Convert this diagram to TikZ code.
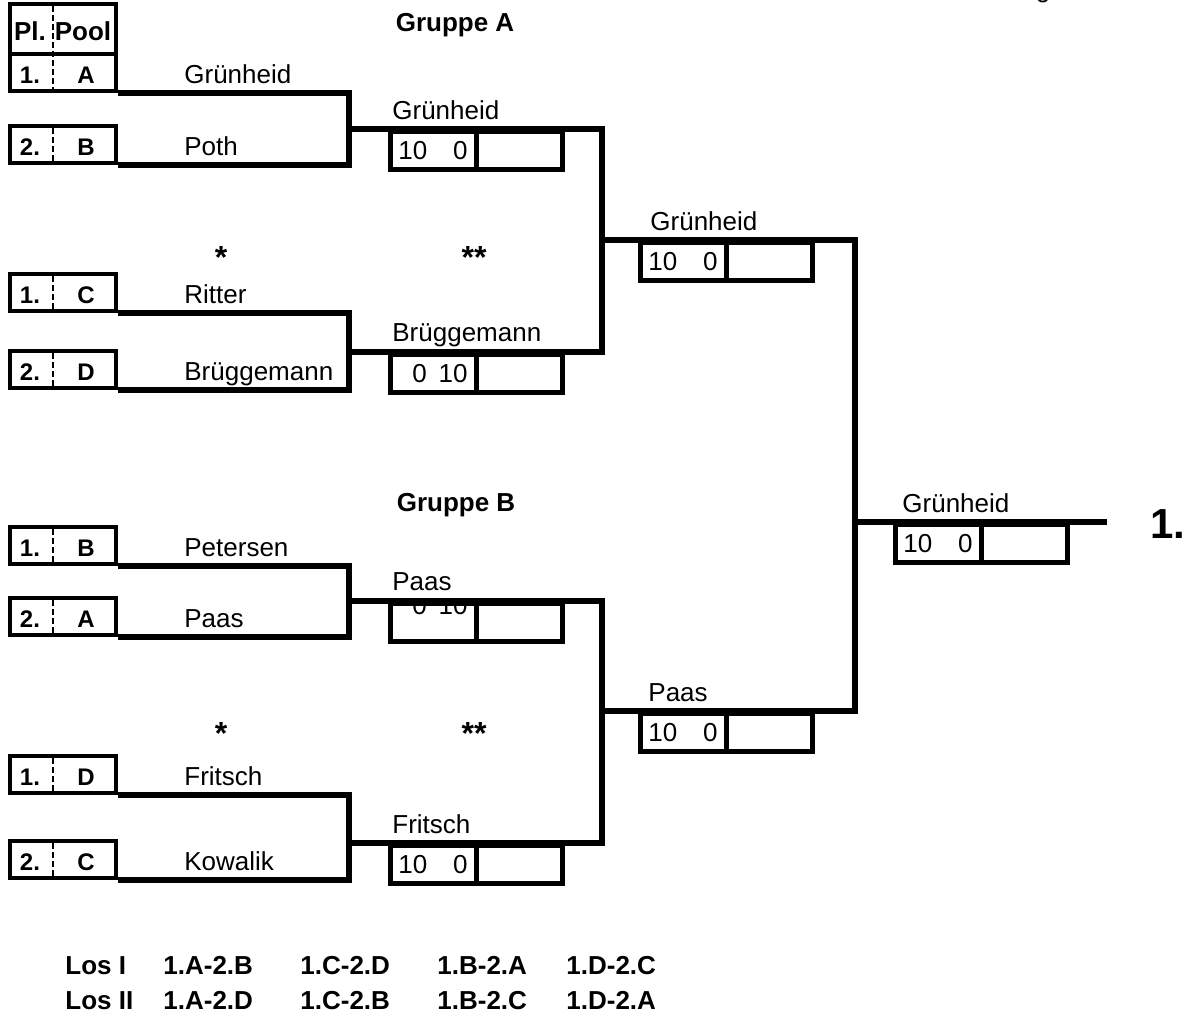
\documentclass[tikz,border=0pt]{standalone}
\usepackage{fontspec}
\setmainfont{Liberation Sans}
\begin{document}
\begin{tikzpicture}[x=0.5pt, y=-0.5pt,
  font=\fontsize{13}{15}\selectfont,
  lbl/.style={anchor=base, inner sep=0pt},
  bold/.style={lbl, font=\fontsize{13}{15}\selectfont\bfseries},
  small/.style={lbl, font=\fontsize{12}{14}\selectfont\bfseries},
  star/.style={lbl, font=\fontsize{16}{18}\selectfont\bfseries},
  player/.style={anchor=base west, inner sep=0pt},
  bracket/.style={line width=2.9pt},
  poolbox/.style={draw, line width=2pt, minimum width=53pt, minimum height=18.5pt, inner sep=0pt, anchor=south west},
  divider/.style={line width=1pt, dash pattern=on 3pt off 1.5pt},
  cell/.style={draw, line width=2.5pt, minimum width=43pt, minimum height=19pt, inner sep=0pt, anchor=north west}]
\useasboundingbox (0,0) rectangle (1193,1030);

\node[lbl] (cut) at (1043,-3) {g};

% Gruppe A
\node[bold] (grpA) at (455,31) {Gruppe A};
\node[poolbox, minimum height=25pt] (head) at (8,56) {};
\node[bold] (headpl) at (30,40) {Pl.};
\node[bold] (headpool) at (83,40) {Pool};
\node[poolbox] (a1) at (8,93) {};
\node[small] (a1n) at (30,83) {1.};
\node[small] (a1p) at (86,83) {A};
\draw[divider] (53,6) -- (53,93);
\node[poolbox] (a2) at (8,165) {};
\node[small] (a2n) at (30,155) {2.};
\node[small] (a2p) at (86,155) {B};
\draw[divider] (53,128) -- (53,165);
\node[player] (a1s) at (184,83) {Grünheid};
\node[player] (a2s) at (184,155) {Poth};

\node[star] (starA1) at (221,268) {*};
\node[star] (starA2) at (474,268) {**};

\node[poolbox] (a3) at (8,313) {};
\node[small] (a3n) at (30,303) {1.};
\node[small] (a3p) at (86,303) {C};
\draw[divider] (53,276) -- (53,313);
\node[poolbox] (a4) at (8,390) {};
\node[small] (a4n) at (30,380) {2.};
\node[small] (a4p) at (86,380) {D};
\draw[divider] (53,353) -- (53,390);
\node[player] (a3s) at (184,303) {Ritter};
\node[player] (a4s) at (184,380) {Brüggemann};

\coordinate (jA1) at (349,129);
\coordinate (jA2) at (349,352);
\coordinate (kA1) at (602,129);
\coordinate (kA2) at (602,352);
\coordinate (mA) at (602,240);
\coordinate (nA) at (855,240);
\draw[bracket] (a1.south east) -| (jA1) |- (a2.south east);
\draw[bracket] (a3.south east) -| (jA2) |- (a4.south east);
\draw[bracket] (jA1) -- (kA1) -- (kA2) -- (jA2);

\node[player] (wA1) at (392,119) {Grünheid};
\node[cell] (sA1) at (388,129) {};
\node[cell] (tA1) at (474,129) {};
\node[player] (sA1a) at (398,159) {10};
\node[lbl, anchor=base east] (sA1b) at (468,159) {0};

\node[player] (wA2) at (392,341) {Brüggemann};
\node[cell] (sA2) at (388,352) {};
\node[cell] (tA2) at (474,352) {};
\node[player] (sA2a) at (412,382) {0};
\node[lbl, anchor=base east] (sA2b) at (468,382) {10};

\node[player] (wAR) at (650,230) {Grünheid};
\node[cell] (sAR) at (638,240) {};
\node[cell] (tAR) at (724,240) {};
\node[player] (sARa) at (648,270) {10};
\node[lbl, anchor=base east] (sARb) at (718,270) {0};

% Gruppe B
\node[bold] (grpB) at (456,511) {Gruppe B};
\node[poolbox] (b1) at (8,566) {};
\node[small] (b1n) at (30,556) {1.};
\node[small] (b1p) at (86,556) {B};
\draw[divider] (53,529) -- (53,566);
\node[poolbox] (b2) at (8,637) {};
\node[small] (b2n) at (30,627) {2.};
\node[small] (b2p) at (86,627) {A};
\draw[divider] (53,600) -- (53,637);
\node[player] (b1s) at (184,556) {Petersen};
\node[player] (b2s) at (184,627) {Paas};

\node[star] (starB1) at (221,744) {*};
\node[star] (starB2) at (474,744) {**};

\node[poolbox] (b3) at (8,795) {};
\node[small] (b3n) at (30,785) {1.};
\node[small] (b3p) at (86,785) {D};
\draw[divider] (53,758) -- (53,795);
\node[poolbox] (b4) at (8,880) {};
\node[small] (b4n) at (30,870) {2.};
\node[small] (b4p) at (86,870) {C};
\draw[divider] (53,843) -- (53,880);
\node[player] (b3s) at (184,785) {Fritsch};
\node[player] (b4s) at (184,870) {Kowalik};

\coordinate (jB1) at (349,601);
\coordinate (jB2) at (349,843);
\coordinate (kB1) at (602,601);
\coordinate (kB2) at (602,843);
\coordinate (mB) at (602,711);
\coordinate (nB) at (855,711);

\node[player] (wB1) at (392,590) {Paas};
\node[cell] (sB1) at (388,601) {};
\node[cell] (tB1) at (474,601) {};
\begin{scope}
\clip (sB1.north west) rectangle (sB1.south east);
\node[player] (sB1a) at (412,614) {0};
\node[lbl, anchor=base east] (sB1b) at (468,614) {10};
\end{scope}

\draw[bracket] (b1.south east) -| (jB1) |- (b2.south east);
\draw[bracket] (b3.south east) -| (jB2) |- (b4.south east);
\draw[bracket] (jB1) -- (kB1) -- (kB2) -- (jB2);

\node[player] (wB2) at (392,833) {Fritsch};
\node[cell] (sB2) at (388,843) {};
\node[cell] (tB2) at (474,843) {};
\node[player] (sB2a) at (398,873) {10};
\node[lbl, anchor=base east] (sB2b) at (468,873) {0};

\node[player] (wBR) at (648,701) {Paas};
\node[cell] (sBR) at (638,711) {};
\node[cell] (tBR) at (724,711) {};
\node[player] (sBRa) at (648,741) {10};
\node[lbl, anchor=base east] (sBRb) at (718,741) {0};

% Finale
\coordinate (fm) at (855,522);
\coordinate (fe) at (1107,522);
\draw[bracket] (mA) -- (nA) -- (nB) -- (mB);
\draw[bracket] (fm) -- (fe);
\node[player] (wF) at (902,512) {Grünheid};
\node[cell] (sF) at (893,522) {};
\node[cell] (tF) at (979,522) {};
\node[player] (sFa) at (903,552) {10};
\node[lbl, anchor=base east] (sFb) at (973,552) {0};
\node[player, font=\fontsize{21}{24}\selectfont\bfseries] (first) at (1150,538) {1.};

% Lose
\node[bold, anchor=base west] (los1) at (65,974) {Los I};
\node[bold, anchor=base west] (los2) at (65,1009) {Los II};
\foreach \x/\a/\b [count=\i] in {163/1.A-2.B/1.A-2.D, 300/1.C-2.D/1.C-2.B, 437/1.B-2.A/1.B-2.C, 566/1.D-2.C/1.D-2.A} {
  \node[bold, anchor=base west] (losa\i) at (\x,974) {\a};
  \node[bold, anchor=base west] (losb\i) at (\x,1009) {\b};
}
\end{tikzpicture}
\end{document}
